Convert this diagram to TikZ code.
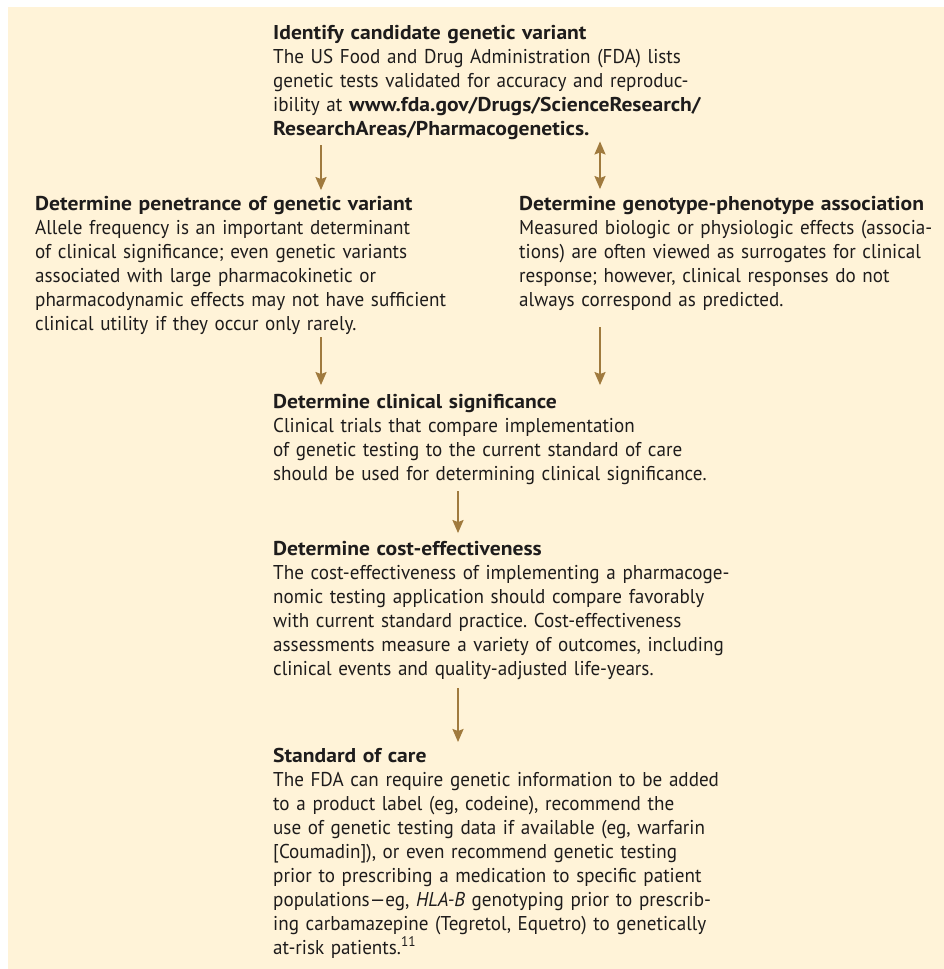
\documentclass[tikz,border=0pt]{standalone}
\usepackage{fontspec}
\setmainfont{PT Sans}[UprightFeatures={FakeStretch=0.955},
  ItalicFeatures={FakeStretch=0.955},
  BoldFeatures={FakeStretch=1.08}]
\usetikzlibrary{arrows.meta}
\definecolor{bgtan}{RGB}{255,243,216}
\definecolor{arrbrown}{RGB}{160,122,62}
\definecolor{txt}{RGB}{30,28,28}
\frenchspacing
\tikzset{
  blk/.style={anchor=base west, inner sep=0pt, text width=700pt, align=left,
    font=\fontsize{20}{24}\selectfont, text=txt},
  arr/.style={draw=arrbrown, line width=2pt,
    -{Stealth[length=13pt,width=11pt,inset=2pt]}},
  darr/.style={draw=arrbrown, line width=2pt,
    {Stealth[length=13pt,width=11pt,inset=2pt]}-{Stealth[length=13pt,width=11pt,inset=2pt]}}
}
\begin{document}
\begin{tikzpicture}[x=1pt,y=-1pt]
\useasboundingbox (0,0) rectangle (944,969);
\fill[bgtan] (8,7) rectangle (944,969);
\coordinate (xL) at (321,0);
\coordinate (xR) at (600,0);
\coordinate (xC) at (458,0);

\node[blk] (top) at (273,39) {\textbf{Identify candidate genetic variant}\\
The US Food and Drug Administration (FDA) lists\\
genetic tests validated for accuracy and reproduc-\\
ibility at \textbf{www.fda.gov/Drugs/ScienceResearch/}\\
\textbf{ResearchAreas/Pharmacogenetics.}};

\node[blk] (pen) at (35,210) {\textbf{Determine penetrance of genetic variant}\\
Allele frequency is an important determinant\\
of clinical significance; even genetic variants\\
associated with large pharmacokinetic or\\
pharmacodynamic effects may not have sufficient\\
clinical utility if they occur only rarely.};

\node[blk, text width=420pt] (geno) at (519,210) {\textbf{Determine genotype-phenotype association}\\
Measured biologic or physiologic effects (associa-\\
tions) are often viewed as surrogates for clinical\\
response; however, clinical responses do not\\
always correspond as predicted.};

\node[blk] (clin) at (273,408) {\textbf{Determine clinical significance}\\
Clinical trials that compare implementation\\
of genetic testing to the current standard of care\\
should be used for determining clinical significance.};

\node[blk] (cost) at (273,555) {\textbf{Determine cost-effectiveness}\\
The cost-effectiveness of implementing a pharmacoge-\\
nomic testing application should compare favorably\\
with current standard practice. Cost-effectiveness\\
assessments measure a variety of outcomes, including\\
clinical events and quality-adjusted life-years.};

\node[blk] (soc) at (273,762) {\textbf{Standard of care}\\
The FDA can require genetic information to be added\\
to a product label (eg, codeine), recommend the\\
use of genetic testing data if available (eg, warfarin\\
{[Coumadin]}), or even recommend genetic testing\\
prior to prescribing a medication to specific patient\\
populations—eg, \textit{HLA-B} genotyping prior to prescrib-\\
ing carbamazepine (Tegretol, Equetro) to genetically\\
at-risk patients.\textsuperscript{11}};

\draw[arr, shorten <=6pt, shorten >=5.5pt] (top.south -| xL) -- (pen.north -| xL);
\draw[darr, shorten <=2pt, shorten >=6.5pt] (top.south -| xR) -- (geno.north -| xR);
\draw[arr, shorten <=3pt, shorten >=8.5pt] (pen.south -| xL) -- (clin.north -| xL);
\draw[arr, shorten <=17pt, shorten >=8.5pt] (geno.south -| xR) -- (clin.north -| xR);
\draw[arr, shorten <=7pt, shorten >=7.5pt] (clin.south -| xC) -- (cost.north -| xC);
\draw[arr, shorten <=9pt, shorten >=5.5pt] (cost.south -| xC) -- (soc.north -| xC);
\end{tikzpicture}
\end{document}
